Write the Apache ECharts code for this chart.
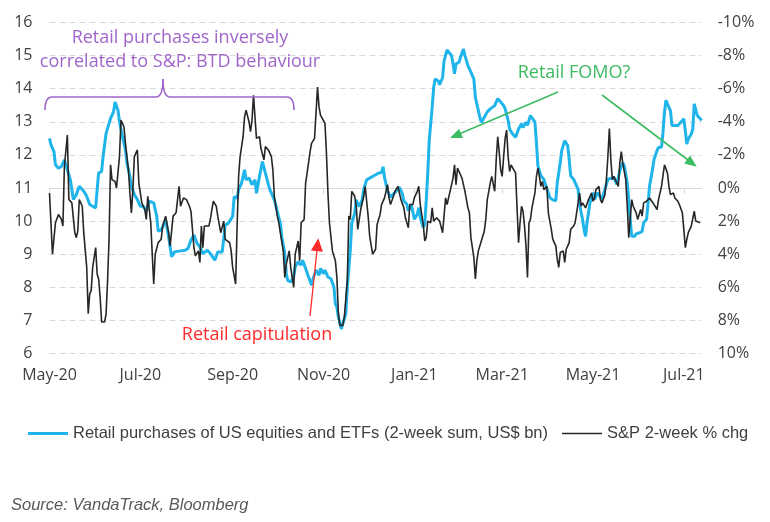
<!DOCTYPE html>
<html>
<head>
<meta charset="utf-8">
<script src="https://cdn.jsdelivr.net/npm/echarts@6/dist/echarts.min.js"></script>
<style>
  html, body { margin: 0; padding: 0; background: #ffffff; }
  #chart { width: 770px; height: 522px; }
</style>
</head>
<body>
<div id="chart"></div>
<script>
// ---- Retail purchases (US$ bn, 2-week sum), left axis ----
const retailDates = [
  '2020-05-01','2020-05-02','2020-05-04','2020-05-05','2020-05-07','2020-05-09','2020-05-11','2020-05-15','2020-05-17','2020-05-19','2020-05-21','2020-05-24','2020-05-26','2020-05-28','2020-05-30',
  '2020-06-01','2020-06-02','2020-06-03','2020-06-05','2020-06-06','2020-06-08','2020-06-09','2020-06-11','2020-06-12','2020-06-13','2020-06-14','2020-06-16','2020-06-17','2020-06-19','2020-06-21','2020-06-22','2020-06-24','2020-06-25','2020-06-27','2020-06-29',
  '2020-07-01','2020-07-03','2020-07-05','2020-07-07','2020-07-10','2020-07-12','2020-07-13','2020-07-15','2020-07-18','2020-07-20','2020-07-22','2020-07-24','2020-07-28','2020-07-31',
  '2020-08-02','2020-08-04','2020-08-06','2020-08-08','2020-08-10','2020-08-12','2020-08-15','2020-08-17','2020-08-20','2020-08-22','2020-08-25','2020-08-27','2020-08-29',
  '2020-09-01','2020-09-02','2020-09-04','2020-09-05','2020-09-07','2020-09-09','2020-09-10','2020-09-12','2020-09-14','2020-09-16','2020-09-17','2020-09-19','2020-09-21','2020-09-23','2020-09-25','2020-09-26','2020-09-29',
  '2020-10-01','2020-10-03','2020-10-04','2020-10-06','2020-10-07','2020-10-08','2020-10-10','2020-10-12','2020-10-13','2020-10-15','2020-10-17','2020-10-18','2020-10-20','2020-10-22','2020-10-24','2020-10-25','2020-10-27','2020-10-29','2020-10-30',
  '2020-11-01','2020-11-02','2020-11-04','2020-11-06','2020-11-08','2020-11-09','2020-11-10','2020-11-11','2020-11-13','2020-11-14','2020-11-16','2020-11-17','2020-11-19','2020-11-20','2020-11-22','2020-11-23','2020-11-25','2020-11-27','2020-11-28','2020-11-30',
  '2020-12-02','2020-12-03','2020-12-06','2020-12-08','2020-12-10','2020-12-11','2020-12-12','2020-12-14','2020-12-16','2020-12-18','2020-12-20','2020-12-22','2020-12-24','2020-12-25','2020-12-27','2020-12-28','2020-12-30',
  '2021-01-01','2021-01-03','2021-01-04','2021-01-05','2021-01-07','2021-01-08','2021-01-09','2021-01-10','2021-01-11','2021-01-13','2021-01-14','2021-01-15','2021-01-17','2021-01-18','2021-01-20','2021-01-21','2021-01-23','2021-01-24','2021-01-26','2021-01-27','2021-01-28','2021-01-29','2021-01-31',
  '2021-02-01','2021-02-03','2021-02-04','2021-02-06','2021-02-08','2021-02-10','2021-02-11','2021-02-13','2021-02-14','2021-02-15','2021-02-17','2021-02-19','2021-02-21','2021-02-24','2021-02-26','2021-02-28',
  '2021-03-02','2021-03-03','2021-03-05','2021-03-06','2021-03-08','2021-03-10','2021-03-12','2021-03-14','2021-03-15','2021-03-17','2021-03-18','2021-03-20','2021-03-21','2021-03-23','2021-03-24','2021-03-25','2021-03-27','2021-03-29','2021-03-30',
  '2021-04-01','2021-04-02','2021-04-04','2021-04-06','2021-04-07','2021-04-09','2021-04-10','2021-04-12','2021-04-14','2021-04-15','2021-04-16','2021-04-18','2021-04-19','2021-04-21','2021-04-22','2021-04-24','2021-04-25','2021-04-26','2021-04-27','2021-04-29',
  '2021-05-01','2021-05-02','2021-05-04','2021-05-07','2021-05-09','2021-05-11','2021-05-12','2021-05-15','2021-05-17','2021-05-19','2021-05-21','2021-05-22','2021-05-24','2021-05-25','2021-05-26','2021-05-27','2021-05-29','2021-05-30',
  '2021-06-01','2021-06-03','2021-06-04','2021-06-06','2021-06-07','2021-06-08','2021-06-10','2021-06-11','2021-06-13','2021-06-14','2021-06-16','2021-06-17','2021-06-18','2021-06-19','2021-06-20','2021-06-22','2021-06-23','2021-06-25','2021-06-27','2021-06-29',
  '2021-07-01','2021-07-02','2021-07-03','2021-07-04','2021-07-06','2021-07-07','2021-07-08','2021-07-10','2021-07-11','2021-07-13'
];
const retailValues = [
  12.5,12.3,12.1,11.7,11.6,11.65,11.85,11.25,10.65,10.8,11.05,10.9,10.75,10.5,10.45,
  10.4,10.95,11.45,11.5,11.95,12.65,12.8,13.1,13.2,13.3,13.6,13.35,13.0,12.55,12.15,11.75,11.35,11.05,10.8,10.65,
  10.45,10.45,10.3,10.6,10.55,10.15,9.7,9.73,10.03,9.53,8.92,9.07,9.1,9.12,
  9.17,9.43,9.58,9.33,9.22,9.02,9.12,9.02,8.82,9.07,9.07,9.88,9.93,
  10.14,10.74,10.69,10.95,11.15,11.55,11.25,11.3,11.1,11.25,10.84,11.35,11.8,11.45,11.1,10.95,10.64,
  10.29,9.93,9.53,9.02,8.41,8.21,8.16,8.31,8.62,8.77,8.67,8.82,8.57,8.31,8.06,8.26,8.52,8.36,8.57,
  8.41,8.52,8.31,8.26,8.01,7.5,7.4,7.1,6.74,6.9,7.2,8.01,9.12,9.93,10.24,10.64,10.44,10.64,10.95,11.25,
  11.3,11.25,11.4,11.45,11.47,11.64,11.32,10.92,10.72,10.82,10.92,11.02,10.82,10.61,10.51,10.31,10.51,
  10.06,10.21,10.41,10.11,9.81,9.91,10.61,11.42,12.43,13.44,14.04,14.29,14.24,14.12,14.34,14.85,15.17,15.15,15.0,14.75,14.45,14.75,14.8,
  14.95,15.2,15.0,14.7,14.5,14.29,13.74,13.34,13.14,12.98,13.14,13.3,13.39,13.49,13.7,13.6,
  13.49,13.39,13.04,12.78,12.63,12.53,12.78,12.94,12.83,12.99,12.89,13.19,13.14,12.99,12.38,11.67,11.37,11.26,11.11,
  10.86,10.71,10.64,10.61,11.16,11.77,12.13,12.43,12.28,11.87,11.37,11.26,11.16,10.96,10.5,10.05,9.74,9.54,9.95,10.56,
  10.86,10.65,10.85,10.66,10.96,11.26,11.26,11.32,11.11,11.52,11.77,11.67,11.16,10.66,10.05,9.54,9.54,9.62,
  9.64,9.69,9.95,10.05,10.56,11.06,11.57,11.87,12.13,12.23,12.23,12.68,13.29,13.65,13.54,13.34,12.89,12.89,12.89,12.99,
  13.09,12.73,12.33,12.48,12.63,12.78,13.54,13.19,13.14,13.04
];

// ---- S&P 2-week % change, right (inverted) axis ----
const spxDates = [
  '2020-05-01','2020-05-03','2020-05-05','2020-05-07','2020-05-09','2020-05-10','2020-05-11','2020-05-13','2020-05-14','2020-05-16','2020-05-18','2020-05-19','2020-05-20','2020-05-21','2020-05-23','2020-05-24','2020-05-26','2020-05-27','2020-05-28','2020-05-29','2020-05-30',
  '2020-06-01','2020-06-02','2020-06-03','2020-06-04','2020-06-05','2020-06-07','2020-06-08','2020-06-09','2020-06-10','2020-06-11','2020-06-12','2020-06-14','2020-06-15','2020-06-17','2020-06-18','2020-06-20','2020-06-21','2020-06-23','2020-06-24','2020-06-25','2020-06-26','2020-06-27','2020-06-29','2020-06-30',
  '2020-07-02','2020-07-04','2020-07-05','2020-07-06','2020-07-08','2020-07-09','2020-07-10','2020-07-11','2020-07-13','2020-07-15','2020-07-16','2020-07-18','2020-07-20','2020-07-21','2020-07-23','2020-07-25','2020-07-26','2020-07-27','2020-07-28','2020-07-30',
  '2020-08-01','2020-08-03','2020-08-04','2020-08-06','2020-08-07','2020-08-09','2020-08-10','2020-08-11','2020-08-12','2020-08-13','2020-08-16','2020-08-17','2020-08-19','2020-08-21','2020-08-22','2020-08-24','2020-08-26','2020-08-27','2020-08-30','2020-08-31',
  '2020-09-01','2020-09-03','2020-09-04','2020-09-05','2020-09-06','2020-09-07','2020-09-08','2020-09-09','2020-09-10','2020-09-12','2020-09-13','2020-09-14','2020-09-15','2020-09-17','2020-09-19','2020-09-20','2020-09-22','2020-09-23','2020-09-25','2020-09-27','2020-09-28','2020-09-29',
  '2020-10-01','2020-10-02','2020-10-03','2020-10-05','2020-10-06','2020-10-07','2020-10-09','2020-10-10','2020-10-12','2020-10-13','2020-10-15','2020-10-16','2020-10-17','2020-10-19','2020-10-20','2020-10-21','2020-10-23','2020-10-24','2020-10-26','2020-10-27','2020-10-28','2020-10-29','2020-10-30',
  '2020-11-02','2020-11-03','2020-11-04','2020-11-05','2020-11-07','2020-11-09','2020-11-10','2020-11-11','2020-11-12','2020-11-14','2020-11-15','2020-11-17','2020-11-18','2020-11-19','2020-11-20','2020-11-22','2020-11-23','2020-11-24','2020-11-26','2020-11-28','2020-11-29',
  '2020-12-01','2020-12-02','2020-12-04','2020-12-06','2020-12-07','2020-12-09','2020-12-10','2020-12-11','2020-12-12','2020-12-14','2020-12-15','2020-12-16','2020-12-18','2020-12-19','2020-12-21','2020-12-23','2020-12-25','2020-12-26','2020-12-28','2020-12-29','2020-12-31',
  '2021-01-01','2021-01-03','2021-01-04','2021-01-05','2021-01-07','2021-01-08','2021-01-09','2021-01-10','2021-01-12','2021-01-13','2021-01-14','2021-01-16','2021-01-18','2021-01-19','2021-01-20','2021-01-22','2021-01-23','2021-01-25','2021-01-27','2021-01-28','2021-01-29','2021-01-30',
  '2021-02-01','2021-02-02','2021-02-04','2021-02-06','2021-02-07','2021-02-08','2021-02-10','2021-02-11','2021-02-12','2021-02-13','2021-02-15','2021-02-17','2021-02-18','2021-02-19','2021-02-21','2021-02-22','2021-02-24','2021-02-25','2021-02-26','2021-02-27','2021-02-28',
  '2021-03-01','2021-03-02','2021-03-03','2021-03-04','2021-03-05','2021-03-06','2021-03-07','2021-03-08','2021-03-10','2021-03-12','2021-03-13','2021-03-14','2021-03-15','2021-03-16','2021-03-17','2021-03-18','2021-03-19','2021-03-20','2021-03-21','2021-03-23','2021-03-24','2021-03-25','2021-03-26','2021-03-27','2021-03-28','2021-03-29','2021-03-31',
  '2021-04-01','2021-04-03','2021-04-04','2021-04-06','2021-04-07','2021-04-08','2021-04-09','2021-04-11','2021-04-12','2021-04-13','2021-04-15','2021-04-16','2021-04-18','2021-04-19','2021-04-20','2021-04-21','2021-04-22','2021-04-23','2021-04-24','2021-04-26','2021-04-28','2021-04-30',
  '2021-05-01','2021-05-02','2021-05-03','2021-05-05','2021-05-06','2021-05-07','2021-05-09','2021-05-10','2021-05-11','2021-05-12','2021-05-13','2021-05-14','2021-05-15','2021-05-17','2021-05-18','2021-05-19','2021-05-20','2021-05-21','2021-05-23','2021-05-24','2021-05-25','2021-05-26','2021-05-27','2021-05-28','2021-05-30','2021-05-31',
  '2021-06-02','2021-06-03','2021-06-04','2021-06-06','2021-06-08','2021-06-09','2021-06-11','2021-06-13','2021-06-14','2021-06-16','2021-06-18','2021-06-20','2021-06-21','2021-06-22','2021-06-24','2021-06-25','2021-06-27','2021-06-28','2021-06-30',
  '2021-07-01','2021-07-02','2021-07-03','2021-07-04','2021-07-06','2021-07-07','2021-07-08','2021-07-09','2021-07-10','2021-07-12'
];
const spxValues = [
  0.3,4.0,2.1,1.6,1.9,2.3,-1.3,-3.2,0.7,0.9,2.7,3.0,2.6,0.7,1.1,2.7,4.8,7.6,6.4,6.2,4.8,
  3.6,5.2,5.5,6.6,8.1,8.1,7.6,5.6,3.1,-1.4,-0.5,-0.4,0,-1.9,-4.1,-3.7,-2.7,-1.1,0.3,1.5,0.1,-1.9,-2.3,-0.3,
  0.9,1.3,1.9,0.5,2.1,4.0,5.8,4.0,3.3,3.1,2.3,1.7,2.7,3.5,1.7,1.5,1.4,-0.1,1.1,0.6,
  0.7,1.1,1.4,3.6,4.1,3.8,4.5,2.3,3.6,2.3,2.3,1.9,0.8,1.1,1.7,2.7,2.0,3.1,3.3,3.8,
  4.8,5.8,2.3,-0.7,-1.9,-2.5,-3.1,-4.3,-4.7,-4.0,-3.4,-4.1,-5.6,-3.0,-3.1,-2.4,-1.7,-2.5,-2.3,-1.9,-1.1,0.5,
  1.7,2.1,2.7,3.8,5.4,4.6,3.8,4.8,6.0,4.0,3.2,4.4,2.1,1.9,-0.3,-0.9,-2.2,-2.7,-3.0,-2.9,-6.1,-4.9,-4.4,
  -3.9,-2.1,0.3,2.1,3.8,4.4,5.4,7.6,8.3,8.3,7.8,5.6,1.7,1.9,0.2,0.5,1.1,2.5,1.3,0.5,-0.1,
  1.7,2.9,4.0,3.7,2.2,1.6,1.0,1.1,0.6,-0.2,0.6,1.0,0.5,0.2,-0.1,0.7,1.2,1.8,2.4,1.0,1.0,
  0.6,0.2,-0.1,1.0,2.2,3.2,3.0,2.0,2.1,1.2,2.0,1.8,2.0,2.0,2.7,0.6,1.0,0.2,-0.6,-1.4,-0.2,-1.2,
  -0.8,-0.6,0.2,1.2,1.5,3.0,4.2,5.5,4.4,3.8,3.2,2.6,1.9,0.7,-0.3,-0.7,0.2,-1.7,-3.1,-2.2,-1.1,
  -0.7,-1.9,-3.0,-3.5,-1.9,-1.0,-1.4,-1.5,-0.9,3.3,2.1,1.1,1.4,2.3,3.5,5.4,2.1,1.9,1.2,0.3,-0.7,-1.2,-0.7,-0.1,-0.4,0.1,-0.1,
  1.5,2.5,3.1,3.5,4.3,4.8,3.9,3.8,4.5,3.7,3.3,2.5,2.3,2.1,1.5,0.9,0.3,1.1,0.9,1.2,0.7,0.3,
  0.8,0.6,0.1,-0.1,0.7,0.9,0.4,-0.5,-1.9,-3.6,-1.7,-0.5,-0.7,-0.3,-0.1,-1.5,-2.2,-1.5,-0.5,1.1,3.0,2.9,0.7,1.1,1.5,1.9,
  1.3,1.7,0.9,0.8,0.6,0.7,1.0,1.3,0.7,-0.1,-1.4,-0.9,-0.1,0.4,0.3,0.6,0.8,1.0,1.5,
  2.5,3.6,3.1,2.7,2.3,2.4,1.4,2.0,2.1,2.1
];

// ---- axis ticks ----
const tickDates = ['2020-05-01','2020-07-01','2020-09-01','2020-11-01','2021-01-01','2021-03-01','2021-05-01','2021-07-01'];
const tickLabels = ['May-20','Jul-20','Sep-20','Nov-20','Jan-21','Mar-21','May-21','Jul-21'];
const axisStart = '2020-05-01';
const axisEnd = '2021-07-13';

function ts(s) {
  const p = s.split('-').map(Number);
  return Date.UTC(p[0], p[1] - 1, p[2]);
}
const tickTs = tickDates.map(ts);
function zip(d, v) { return d.map((x, i) => [ts(x), v[i]]); }

const labelColor = '#404040';
const tickFont = 'Open Sans';
const noteFont = '18px "Open Sans"';
const purple = '#a066cc';
const green = '#3dbb62';
const red = '#ff2a2a';
const blue = '#1fb4ea';
const black = '#262626';
const retailName = 'Retail purchases of US equities and ETFs (2-week sum, US$ bn)';
const spxName = 'S&P 2-week % chg';

const chart = echarts.init(document.getElementById('chart'), null, { renderer: 'canvas' });
chart.setOption({
  animation: false,
  backgroundColor: '#ffffff',
  grid: { left: 49.5, top: 22.5, width: 652.2, height: 331 },
  legend: {
    left: 23, top: 420,
    itemWidth: 40, itemHeight: 3, itemGap: 14,
    symbolKeepAspect: true,
    textStyle: { color: labelColor, fontFamily: '"Liberation Sans", Arial, sans-serif', fontSize: 16.5 },
    data: [
      { name: retailName, icon: 'rect' },
      { name: spxName, icon: 'path://M0,0H40V1.5H0Z' }
    ]
  },
  xAxis: {
    type: 'value',
    min: ts(axisStart), max: ts(axisEnd),
    axisLine: { show: true, lineStyle: { color: '#d9d9d9', width: 1 } },
    axisTick: { show: true, customValues: tickTs, length: 6, lineStyle: { color: '#d9d9d9' } },
    axisLabel: {
      customValues: tickTs,
      formatter: function (v) { const i = tickTs.indexOf(v); return i >= 0 ? tickLabels[i] : ''; },
      color: labelColor, fontFamily: tickFont, fontSize: 16, margin: 14
    },
    splitLine: { show: false }
  },
  yAxis: [
    {
      type: 'value', min: 6, max: 16, interval: 1, position: 'left',
      axisLine: { show: false }, axisTick: { show: false },
      axisLabel: { color: labelColor, fontFamily: tickFont, fontSize: 16, margin: 17 },
      splitLine: { show: true, lineStyle: { color: '#d9d9d9', width: 1, type: [6, 4] } }
    },
    {
      type: 'value', min: -10, max: 10, interval: 2, position: 'right', inverse: true,
      axisLine: { show: false }, axisTick: { show: false },
      axisLabel: { color: labelColor, fontFamily: tickFont, fontSize: 16, margin: 16, formatter: function (v) { return v + '%'; } },
      splitLine: { show: false }
    }
  ],
  series: [
    {
      name: retailName,
      type: 'line', yAxisIndex: 0, symbol: 'none', showSymbol: false,
      lineStyle: { color: blue, width: 3 }, itemStyle: { color: blue },
      z: 2,
      data: zip(retailDates, retailValues)
    },
    {
      name: spxName,
      type: 'line', yAxisIndex: 1, symbol: 'none', showSymbol: false,
      lineStyle: { color: black, width: 1.6 }, itemStyle: { color: black },
      z: 3,
      data: zip(spxDates, spxValues)
    }
  ],
  graphic: [
    { type: 'text', z: 10, style: { text: 'Retail purchases inversely\ncorrelated to S&P: BTD behaviour', x: 180, y: 26, align: 'center', verticalAlign: 'top', lineHeight: 24, font: noteFont, fill: purple } },
    { type: 'bezierCurve', z: 10, shape: { x1: 45, y1: 110, x2: 52, y2: 97, cpx1: 45, cpy1: 97 }, style: { stroke: purple, fill: null, lineWidth: 1.6 } },
    { type: 'line', z: 10, shape: { x1: 52, y1: 97, x2: 156, y2: 97 }, style: { stroke: purple, lineWidth: 1.6 } },
    { type: 'bezierCurve', z: 10, shape: { x1: 156, y1: 97, x2: 163, y2: 79, cpx1: 163, cpy1: 97 }, style: { stroke: purple, fill: null, lineWidth: 1.6 } },
    { type: 'bezierCurve', z: 10, shape: { x1: 163, y1: 79, x2: 170, y2: 97, cpx1: 163, cpy1: 97 }, style: { stroke: purple, fill: null, lineWidth: 1.6 } },
    { type: 'line', z: 10, shape: { x1: 170, y1: 97, x2: 287, y2: 97 }, style: { stroke: purple, lineWidth: 1.6 } },
    { type: 'bezierCurve', z: 10, shape: { x1: 287, y1: 97, x2: 294, y2: 110, cpx1: 294, cpy1: 97 }, style: { stroke: purple, fill: null, lineWidth: 1.6 } },
    { type: 'text', z: 10, style: { text: 'Retail FOMO?', x: 574, y: 73, align: 'center', verticalAlign: 'middle', font: noteFont, fill: green } },
    { type: 'line', z: 10, shape: { x1: 558, y1: 92, x2: 459, y2: 134 }, style: { stroke: green, lineWidth: 1.6 } },
    { type: 'polygon', z: 10, shape: { points: [[450, 138], [459.1, 128.7], [463.0, 137.9]] }, style: { fill: green } },
    { type: 'line', z: 10, shape: { x1: 602, y1: 95, x2: 688, y2: 160 }, style: { stroke: green, lineWidth: 1.6 } },
    { type: 'polygon', z: 10, shape: { points: [[696.7, 166.7], [684.1, 163.5], [690.1, 155.5]] }, style: { fill: green } },
    { type: 'text', z: 10, style: { text: 'Retail capitulation', x: 257, y: 335, align: 'center', verticalAlign: 'middle', font: noteFont, fill: red } },
    { type: 'line', z: 10, shape: { x1: 310, y1: 316, x2: 317, y2: 250 }, style: { stroke: red, lineWidth: 1.3 } },
    { type: 'polygon', z: 10, shape: { points: [[318.3, 238.3], [322.9, 251.8], [310.9, 250.6]] }, style: { fill: red } },
    { type: 'text', z: 10, style: { text: 'Source: VandaTrack, Bloomberg', x: 11, y: 505, align: 'left', verticalAlign: 'middle', font: 'italic 16.5px "Liberation Sans", Arial, sans-serif', fill: '#595959' } }
  ]
});
</script>
</body>
</html>
